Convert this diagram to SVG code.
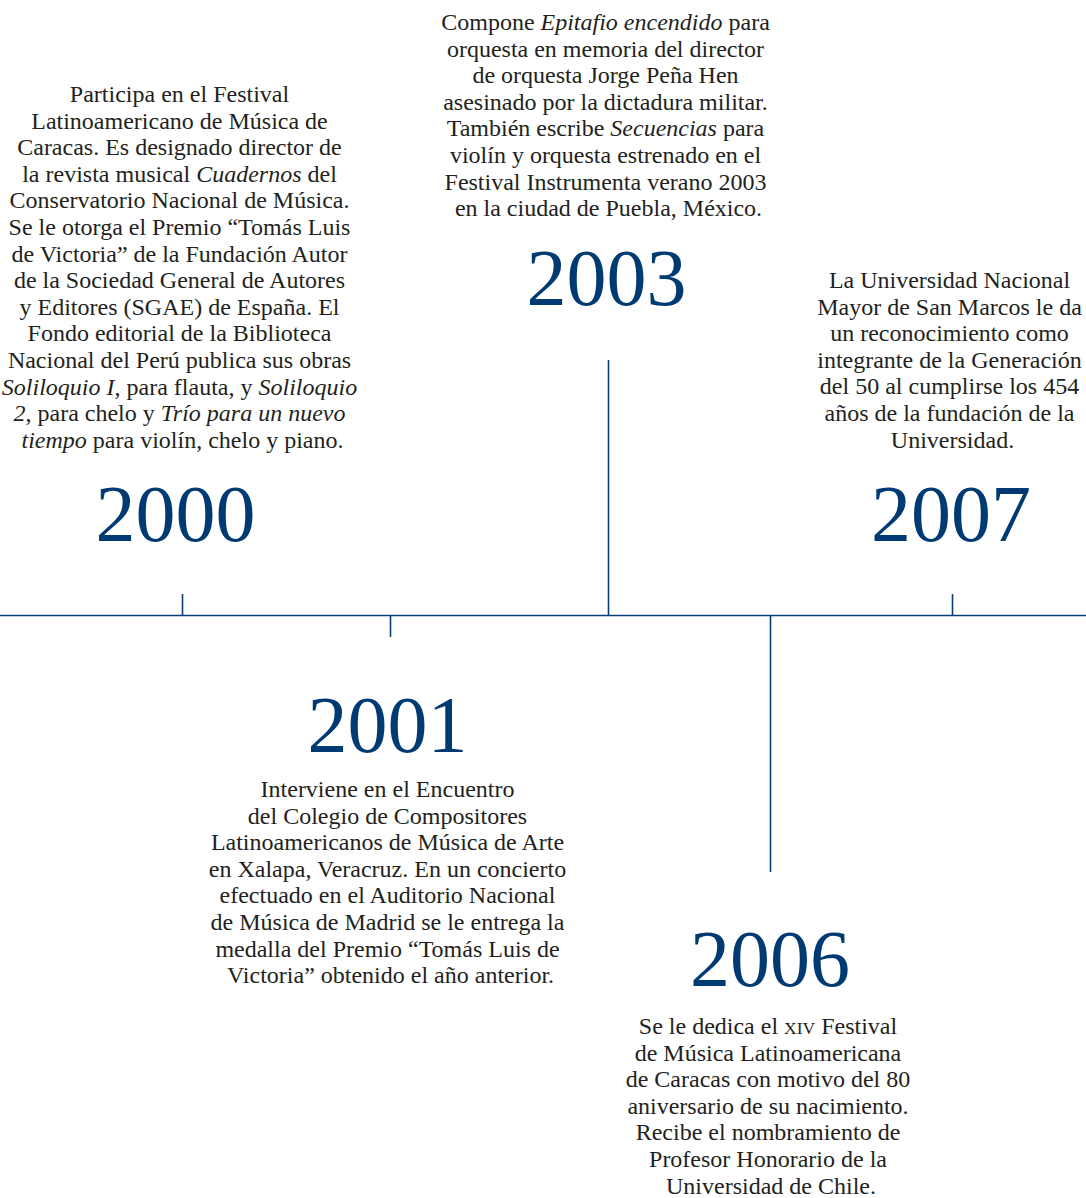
<svg xmlns="http://www.w3.org/2000/svg" width="1086" height="1198" viewBox="0 0 1086 1198">
<style>
.t{font-family:"Liberation Serif","Times New Roman",serif;font-size:24px;fill:#231f20;text-anchor:middle}
.y{font-family:"Liberation Serif","Times New Roman",serif;font-size:80px;fill:#003a73;text-anchor:middle}
.l{stroke:#0b3d78;stroke-width:1.6;fill:none}
.sc{font-size:17.5px}
</style>
<rect width="1086" height="1198" fill="#fff"/>
<g id="connectors">
<line class="l" x1="0" y1="615.5" x2="1086" y2="615.5"/>
<line class="l" x1="182.5" y1="594" x2="182.5" y2="615.5"/>
<line class="l" x1="390.5" y1="615.5" x2="390.5" y2="637"/>
<line class="l" x1="608.5" y1="360" x2="608.5" y2="615.5"/>
<line class="l" x1="770.5" y1="615.5" x2="770.5" y2="872"/>
<line class="l" x1="952.5" y1="594" x2="952.5" y2="615.5"/>
</g>
<g id="n2000">
<text class="t" x="182.5" y="102">
<tspan x="182.5" dy="0">Participa en el Festival</tspan>
<tspan x="182.5" dy="26.6">Latinoamericano de Música de</tspan>
<tspan x="182.5" dy="26.6">Caracas. Es designado director de</tspan>
<tspan x="182.5" dy="26.6">la revista musical <tspan font-style="italic">Cuadernos</tspan> del</tspan>
<tspan x="182.5" dy="26.6">Conservatorio Nacional de Música.</tspan>
<tspan x="182.5" dy="26.6">Se le otorga el Premio “Tomás Luis</tspan>
<tspan x="182.5" dy="26.6">de Victoria” de la Fundación Autor</tspan>
<tspan x="182.5" dy="26.6">de la Sociedad General de Autores</tspan>
<tspan x="182.5" dy="26.6">y Editores (SGAE) de España. El</tspan>
<tspan x="182.5" dy="26.6">Fondo editorial de la Biblioteca</tspan>
<tspan x="182.5" dy="26.6">Nacional del Perú publica sus obras</tspan>
<tspan x="182.5" dy="26.6"><tspan font-style="italic">Soliloquio I</tspan>, para flauta, y <tspan font-style="italic">Soliloquio</tspan></tspan>
<tspan x="182.5" dy="26.6"><tspan font-style="italic">2</tspan>, para chelo y <tspan font-style="italic">Trío para un nuevo</tspan></tspan>
<tspan x="182.5" dy="26.6"><tspan font-style="italic">tiempo</tspan> para violín, chelo y piano.</tspan>
</text>
<text class="y" x="175.5" y="541">2000</text>
</g>
<g id="n2003">
<text class="t" x="608.5" y="30">
<tspan x="608.5" dy="0">Compone <tspan font-style="italic">Epitafio encendido</tspan> para</tspan>
<tspan x="608.5" dy="26.6">orquesta en memoria del director</tspan>
<tspan x="608.5" dy="26.6">de orquesta Jorge Peña Hen</tspan>
<tspan x="608.5" dy="26.6">asesinado por la dictadura militar.</tspan>
<tspan x="608.5" dy="26.6">También escribe <tspan font-style="italic">Secuencias</tspan> para</tspan>
<tspan x="608.5" dy="26.6">violín y orquesta estrenado en el</tspan>
<tspan x="608.5" dy="26.6">Festival Instrumenta verano 2003</tspan>
<tspan x="608.5" dy="26.6">en la ciudad de Puebla, México.</tspan>
</text>
<text class="y" x="606.5" y="305">2003</text>
</g>
<g id="n2007">
<text class="t" x="952.5" y="288">
<tspan x="952.5" dy="0">La Universidad Nacional</tspan>
<tspan x="952.5" dy="26.6">Mayor de San Marcos le da</tspan>
<tspan x="952.5" dy="26.6">un reconocimiento como</tspan>
<tspan x="952.5" dy="26.6">integrante de la Generación</tspan>
<tspan x="952.5" dy="26.6">del 50 al cumplirse los 454</tspan>
<tspan x="952.5" dy="26.6">años de la fundación de la</tspan>
<tspan x="952.5" dy="26.6">Universidad.</tspan>
</text>
<text class="y" x="951" y="541">2007</text>
</g>
<g id="n2001">
<text class="y" x="387.5" y="752">2001</text>
<text class="t" x="390.5" y="797">
<tspan x="390.5" dy="0">Interviene en el Encuentro</tspan>
<tspan x="390.5" dy="26.6">del Colegio de Compositores</tspan>
<tspan x="390.5" dy="26.6">Latinoamericanos de Música de Arte</tspan>
<tspan x="390.5" dy="26.6">en Xalapa, Veracruz. En un concierto</tspan>
<tspan x="390.5" dy="26.6">efectuado en el Auditorio Nacional</tspan>
<tspan x="390.5" dy="26.6">de Música de Madrid se le entrega la</tspan>
<tspan x="390.5" dy="26.6">medalla del Premio “Tomás Luis de</tspan>
<tspan x="390.5" dy="26.6">Victoria” obtenido el año anterior.</tspan>
</text>
</g>
<g id="n2006">
<text class="y" x="770" y="986">2006</text>
<text class="t" x="771" y="1034">
<tspan x="771" dy="0">Se le dedica el <tspan class="sc">XIV</tspan> Festival</tspan>
<tspan x="771" dy="26.6">de Música Latinoamericana</tspan>
<tspan x="771" dy="26.6">de Caracas con motivo del 80</tspan>
<tspan x="771" dy="26.6">aniversario de su nacimiento.</tspan>
<tspan x="771" dy="26.6">Recibe el nombramiento de</tspan>
<tspan x="771" dy="26.6">Profesor Honorario de la</tspan>
<tspan x="771" dy="26.6">Universidad de Chile.</tspan>
</text>
</g>
</svg>
